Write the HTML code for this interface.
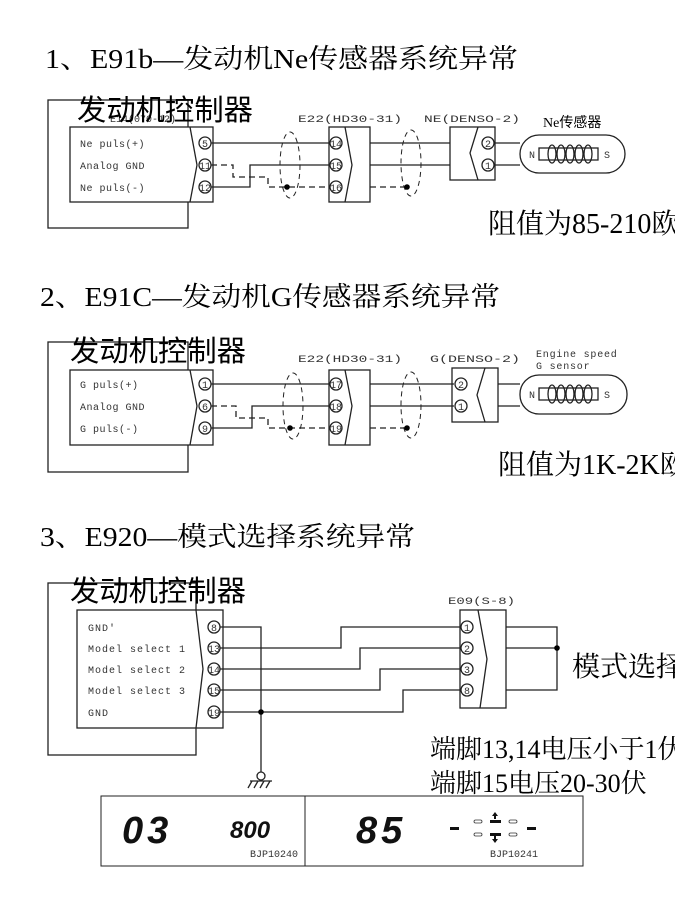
<!DOCTYPE html>
<html><head><meta charset="utf-8"><style>
html,body{margin:0;padding:0;background:#fff;width:675px;height:900px;overflow:hidden}
svg{display:block}
.t{font-family:"Liberation Serif","Noto Serif CJK SC",serif;fill:#000}
.s{font-family:"Liberation Sans","Noto Sans CJK SC",sans-serif;fill:#000}
.m{font-family:"Liberation Mono","DejaVu Sans Mono",monospace;fill:#333;font-size:10px}
</style></head><body>
<svg width="675" height="900" viewBox="0 0 675 900" xmlns="http://www.w3.org/2000/svg">
<g fill="none" stroke="#222" stroke-width="1.3">
<rect x="48" y="100" width="140" height="128"/>
<rect x="70" y="127" width="143" height="75" fill="#fff"/>
<polyline points="190,127 197,165 190,202"/>
<circle cx="205" cy="143" r="6"/><circle cx="205" cy="165" r="6"/><circle cx="205" cy="187" r="6"/>
<rect x="329" y="127" width="41" height="75"/>
<polyline points="345,127 352,165 345,202"/>
<circle cx="336" cy="143" r="6"/><circle cx="336" cy="165" r="6"/><circle cx="336" cy="187" r="6"/>
<line x1="211" y1="143" x2="330" y2="143"/>
<polyline points="211,187 250,187 250,165 330,165"/>
<polyline points="211,165 233,165 233,177 268,177 268,187 330,187" stroke-dasharray="6,4"/>
<ellipse cx="290" cy="165" rx="10" ry="33" stroke-dasharray="5,4" stroke-width="1"/>
<line x1="370" y1="143" x2="450" y2="143"/><line x1="370" y1="165" x2="450" y2="165"/>
<line x1="370" y1="187" x2="407" y2="187" stroke-dasharray="6,4"/>
<ellipse cx="411" cy="163" rx="10" ry="33" stroke-dasharray="5,4" stroke-width="1"/>
<rect x="450" y="127" width="45" height="53"/>
<polyline points="478,127 470,153 478,180"/>
<circle cx="488" cy="143" r="6"/><circle cx="488" cy="165" r="6"/>
<line x1="494" y1="143" x2="520" y2="143"/><line x1="494" y1="165" x2="520" y2="165"/>
<rect x="520" y="135" width="105" height="38" rx="19"/>
<rect x="539" y="148" width="59" height="12"/>
<ellipse cx="552" cy="154" rx="4" ry="9"/><ellipse cx="561" cy="154" rx="4" ry="9"/><ellipse cx="570" cy="154" rx="4" ry="9"/><ellipse cx="579" cy="154" rx="4" ry="9"/><ellipse cx="588" cy="154" rx="4" ry="9"/>
<rect x="48" y="342" width="140" height="130"/>
<rect x="70" y="370" width="143" height="75" fill="#fff"/>
<polyline points="190,370 197,406 190,445"/>
<circle cx="205" cy="384" r="6"/><circle cx="205" cy="406" r="6"/><circle cx="205" cy="428" r="6"/>
<rect x="329" y="370" width="41" height="75"/>
<polyline points="345,370 352,406 345,445"/>
<circle cx="336" cy="384" r="6"/><circle cx="336" cy="406" r="6"/><circle cx="336" cy="428" r="6"/>
<line x1="211" y1="384" x2="330" y2="384"/>
<polyline points="211,428 252,428 252,406 330,406"/>
<polyline points="211,406 236,406 236,418 268,418 268,428 330,428" stroke-dasharray="6,4"/>
<ellipse cx="293" cy="406" rx="10" ry="33" stroke-dasharray="5,4" stroke-width="1"/>
<line x1="370" y1="384" x2="454" y2="384"/><line x1="370" y1="406" x2="454" y2="406"/>
<line x1="370" y1="428" x2="407" y2="428" stroke-dasharray="6,4"/>
<ellipse cx="411" cy="405" rx="10" ry="33" stroke-dasharray="5,4" stroke-width="1"/>
<rect x="452" y="368" width="46" height="54"/>
<polyline points="485,368 477,395 485,422"/>
<circle cx="461" cy="384" r="6"/><circle cx="461" cy="406" r="6"/>
<line x1="498" y1="384" x2="520" y2="384"/><line x1="498" y1="406" x2="520" y2="406"/>
<rect x="520" y="375" width="107" height="39" rx="19"/>
<rect x="539" y="388" width="59" height="12"/>
<ellipse cx="552" cy="394" rx="4" ry="9"/><ellipse cx="561" cy="394" rx="4" ry="9"/><ellipse cx="570" cy="394" rx="4" ry="9"/><ellipse cx="579" cy="394" rx="4" ry="9"/><ellipse cx="588" cy="394" rx="4" ry="9"/>
<rect x="48" y="583" width="148" height="172"/>
<rect x="77" y="610" width="146" height="118" fill="#fff"/>
<polyline points="196,610 203,669 196,728"/>
<circle cx="214" cy="627" r="6"/><circle cx="214" cy="648" r="6"/><circle cx="214" cy="669" r="6"/><circle cx="214" cy="690" r="6"/><circle cx="214" cy="712" r="6"/>
<polyline points="220,627 261,627 261,772"/>
<polyline points="220,648 341,648 341,627 461,627"/>
<polyline points="220,669 360,669 360,648 461,648"/>
<polyline points="220,690 380,690 380,669 461,669"/>
<polyline points="220,712 403,712 403,690 461,690"/>
<rect x="460" y="610" width="46" height="98"/>
<polyline points="478,610 487,659 480,708"/>
<circle cx="467" cy="627" r="6"/><circle cx="467" cy="648" r="6"/><circle cx="467" cy="669" r="6"/><circle cx="467" cy="690" r="6"/>
<polyline points="506,627 557,627 557,690 506,690"/>
<line x1="506" y1="648" x2="557" y2="648"/>
<circle cx="261" cy="776" r="4"/>
<line x1="250" y1="781" x2="272" y2="781"/>
<line x1="252" y1="781" x2="248" y2="788"/><line x1="258" y1="781" x2="254" y2="788"/><line x1="264" y1="781" x2="260" y2="788"/><line x1="270" y1="781" x2="266" y2="788"/>
<rect x="101" y="796" width="482" height="70" stroke-width="1"/>
<line x1="305" y1="796" x2="305" y2="866" stroke-width="1"/>
</g>
<g fill="#000">
<circle cx="287" cy="187" r="2.8"/><circle cx="407" cy="187" r="2.8"/>
<circle cx="290" cy="428" r="2.8"/><circle cx="407" cy="428" r="2.8"/>
<circle cx="261" cy="712" r="2.8"/><circle cx="557" cy="648" r="2.8"/>
</g>
<text class="t" x="45" y="68" font-size="27" textLength="473" lengthAdjust="spacingAndGlyphs">1、E91b—发动机Ne传感器系统异常</text>
<text class="m" x="110" y="122" fill="#555">E14(070-12)</text>
<text class="s" x="77" y="120" font-size="29" textLength="176" lengthAdjust="spacingAndGlyphs">发动机控制器</text>
<text class="m" x="80" y="147" letter-spacing="0.5">Ne puls(+)</text>
<text class="m" x="80" y="169" letter-spacing="0.5">Analog GND</text>
<text class="m" x="80" y="191" letter-spacing="0.5">Ne puls(-)</text>
<g class="m" font-size="10" text-anchor="middle">
<text x="205" y="147">5</text><text x="205" y="169">11</text><text x="205" y="191">12</text>
<text x="336" y="147">14</text><text x="336" y="169">15</text><text x="336" y="191">16</text>
<text x="488" y="147">2</text><text x="488" y="169">1</text>
<text x="205" y="388">1</text><text x="205" y="410">6</text><text x="205" y="432">9</text>
<text x="336" y="388">17</text><text x="336" y="410">18</text><text x="336" y="432">19</text>
<text x="461" y="388">2</text><text x="461" y="410">1</text>
<text x="214" y="631">8</text><text x="214" y="652">13</text><text x="214" y="673">14</text><text x="214" y="694">15</text><text x="214" y="716">19</text>
<text x="467" y="631">1</text><text x="467" y="652">2</text><text x="467" y="673">3</text><text x="467" y="694">8</text>
</g>
<text class="m" x="298" y="122" font-size="13" textLength="104" lengthAdjust="spacingAndGlyphs">E22(HD30-31)</text>
<text class="m" x="424" y="122" font-size="13" textLength="96" lengthAdjust="spacingAndGlyphs">NE(DENSO-2)</text>
<text class="s" x="543" y="127" font-size="14"><tspan font-family="Liberation Serif">Ne</tspan>传感器</text>
<text class="m" x="529" y="158" font-size="8">N</text><text class="m" x="604" y="158" font-size="8">S</text>
<text class="t" x="488" y="233" font-size="28">阻值为85-210欧</text>
<text class="t" x="40" y="306" font-size="27" textLength="460" lengthAdjust="spacingAndGlyphs">2、E91C—发动机G传感器系统异常</text>
<text class="s" x="70" y="361" font-size="29" textLength="176" lengthAdjust="spacingAndGlyphs">发动机控制器</text>
<text class="m" x="80" y="388" letter-spacing="0.5">G puls(+)</text>
<text class="m" x="80" y="410" letter-spacing="0.5">Analog GND</text>
<text class="m" x="80" y="432" letter-spacing="0.5">G puls(-)</text>
<text class="m" x="298" y="362" font-size="13" textLength="104" lengthAdjust="spacingAndGlyphs">E22(HD30-31)</text>
<text class="m" x="430" y="362" font-size="13" textLength="90" lengthAdjust="spacingAndGlyphs">G(DENSO-2)</text>
<text class="m" x="536" y="357" font-size="9" letter-spacing="0.8">Engine speed</text>
<text class="m" x="536" y="369" font-size="9" letter-spacing="0.8">G sensor</text>
<text class="m" x="529" y="398" font-size="8">N</text><text class="m" x="604" y="398" font-size="8">S</text>
<text class="t" x="498" y="474" font-size="28">阻值为1K-2K欧</text>
<text class="t" x="40" y="546" font-size="27" textLength="375" lengthAdjust="spacingAndGlyphs">3、E920—模式选择系统异常</text>
<text class="s" x="70" y="601" font-size="29" textLength="176" lengthAdjust="spacingAndGlyphs">发动机控制器</text>
<text class="m" x="88" y="631" letter-spacing="1">GND'</text>
<text class="m" x="88" y="652" letter-spacing="1">Model select 1</text>
<text class="m" x="88" y="673" letter-spacing="1">Model select 2</text>
<text class="m" x="88" y="694" letter-spacing="1">Model select 3</text>
<text class="m" x="88" y="716" letter-spacing="1">GND</text>
<text class="m" x="448" y="604" font-size="13" textLength="67" lengthAdjust="spacingAndGlyphs">E09(S-8)</text>
<text class="t" x="572" y="676" font-size="28">模式选择开关</text>
<text class="t" x="430" y="758" font-size="26">端脚13,14电压小于1伏</text>
<text class="t" x="430" y="792" font-size="26">端脚15电压20-30伏</text>
<g font-family="Liberation Sans,sans-serif" font-weight="bold" font-style="italic" fill="#111">
<text x="122" y="843" font-size="38" letter-spacing="4">03</text>
<text x="230" y="838" font-size="24">800</text>
<text x="356" y="843" font-size="38" letter-spacing="4">85</text>
</g>
<text class="m" x="250" y="857" font-size="8">BJP10240</text>
<text class="m" x="490" y="857" font-size="8">BJP10241</text>
<g fill="#111">
<rect x="450" y="827" width="9" height="3"/><rect x="527" y="827" width="9" height="3"/>
<rect x="490" y="820" width="11" height="3"/><rect x="490" y="833" width="11" height="3"/>
<polygon points="495,812 498,816 496,816 496,819 494,819 494,816 492,816"/>
<polygon points="495,843 498,839 496,839 496,836 494,836 494,839 492,839"/>
</g>
<g fill="none" stroke="#333" stroke-width="0.8">
<rect x="474" y="820" width="8" height="3" rx="1.5"/><rect x="509" y="820" width="8" height="3" rx="1.5"/>
<rect x="474" y="833" width="8" height="3" rx="1.5"/><rect x="509" y="833" width="8" height="3" rx="1.5"/>
</g>
</svg>
</body></html>
